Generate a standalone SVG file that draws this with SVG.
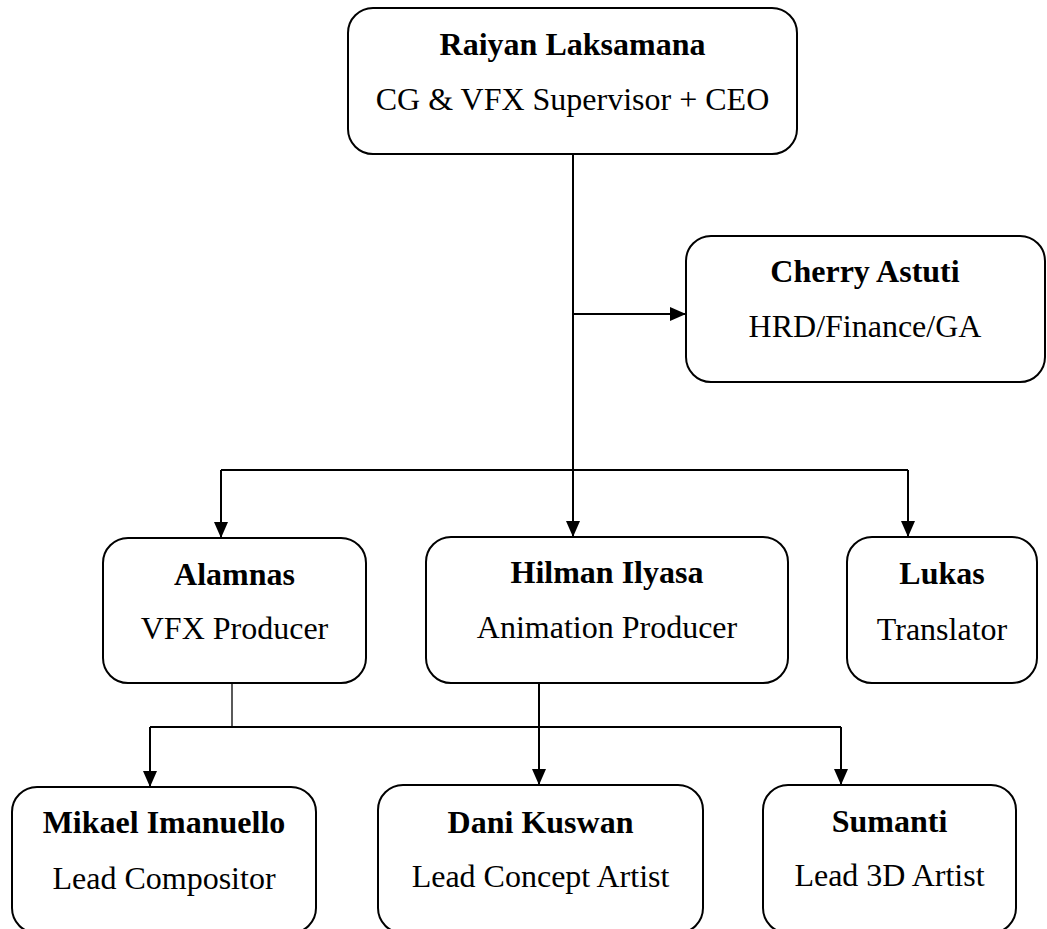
<svg xmlns="http://www.w3.org/2000/svg" width="1047" height="929" viewBox="0 0 1047 929">
<style>
.box{fill:#fff;stroke:#000;stroke-width:2}
.name{font-family:"Liberation Serif","Times New Roman",serif;font-size:32px;font-weight:bold;text-anchor:middle;fill:#000}
.role{font-family:"Liberation Serif","Times New Roman",serif;font-size:32px;text-anchor:middle;fill:#000}
.c{fill:none;stroke:#000;stroke-width:2}
.a{marker-end:url(#arr)}
.thin{stroke-width:1.3}
</style>
<defs>
<marker id="arr" markerUnits="userSpaceOnUse" markerWidth="16" markerHeight="14" refX="16" refY="7" orient="auto">
<path d="M0,0 L16,7 L0,14 z" fill="#000"/>
</marker>
</defs>
<rect width="1047" height="929" fill="#fff"/>
<g id="connectors">
<path class="c" d="M573,154 V470"/>
<path class="c a" d="M573,314 H686"/>
<path class="c" d="M221,470 H908"/>
<path class="c a" d="M221,470 V538"/>
<path class="c a" d="M573,470 V537"/>
<path class="c a" d="M908,470 V537"/>
<path class="c thin" d="M232,683 V727"/>
<path class="c" d="M150,727 H841"/>
<path class="c a" d="M150,727 V787"/>
<path class="c a" d="M539,683 V785"/>
<path class="c a" d="M841,727 V785"/>
</g>
<g id="raiyan">
<rect class="box" x="348" y="8" width="449" height="146" rx="25"/>
<text class="name" x="572.5" y="55">Raiyan Laksamana</text>
<text class="role" x="572.5" y="110">CG &amp; VFX Supervisor + CEO</text>
</g>
<g id="cherry">
<rect class="box" x="686" y="236" width="359" height="146" rx="25"/>
<text class="name" x="865" y="282">Cherry Astuti</text>
<text class="role" x="865" y="337">HRD/Finance/GA</text>
</g>
<g id="alamnas">
<rect class="box" x="103" y="538" width="263" height="145" rx="25"/>
<text class="name" x="234.5" y="585">Alamnas</text>
<text class="role" x="234.5" y="639">VFX Producer</text>
</g>
<g id="hilman">
<rect class="box" x="426" y="537" width="362" height="146" rx="25"/>
<text class="name" x="607" y="583">Hilman Ilyasa</text>
<text class="role" x="607" y="638">Animation Producer</text>
</g>
<g id="lukas">
<rect class="box" x="847" y="537" width="190" height="146" rx="25"/>
<text class="name" x="942" y="584">Lukas</text>
<text class="role" x="942" y="640">Translator</text>
</g>
<g id="mikael">
<rect class="box" x="12" y="787" width="304" height="146" rx="25"/>
<text class="name" x="164" y="833">Mikael Imanuello</text>
<text class="role" x="164" y="889">Lead Compositor</text>
</g>
<g id="dani">
<rect class="box" x="378" y="785" width="325" height="148" rx="25"/>
<text class="name" x="540.5" y="833">Dani Kuswan</text>
<text class="role" x="540.5" y="887">Lead Concept Artist</text>
</g>
<g id="sumanti">
<rect class="box" x="763" y="785" width="253" height="148" rx="25"/>
<text class="name" x="889.5" y="832">Sumanti</text>
<text class="role" x="889.5" y="886">Lead 3D Artist</text>
</g>
</svg>
